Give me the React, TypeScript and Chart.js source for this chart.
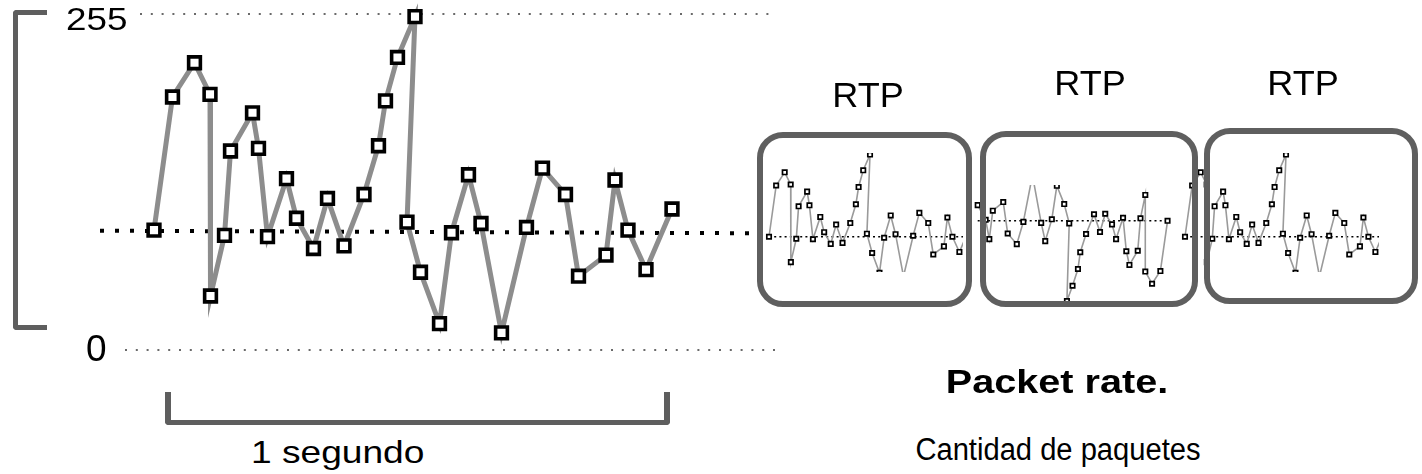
import React, { useEffect, useRef } from 'react';
import { Chart, registerables } from 'chart.js';

Chart.register(...registerables);

const FONT = '"Liberation Sans", Arial, Helvetica, sans-serif';

// ---- Main packet-rate series (time in ms, value 0..255) ----
const mainTimes = [0, 37, 81, 112, 113, 141, 153, 197, 209, 227, 265, 285, 319, 347, 380, 420, 449, 463, 487, 522, 506, 533, 571, 595, 629, 654, 695, 745, 777, 823, 849, 904, 922, 948, 984, 1036];
const mainValues = [91, 192, 218, 194, 41, 87, 151, 180, 153, 86, 130, 100, 77, 115, 79, 118, 155, 189, 222, 253, 97, 59, 20, 89, 133, 96, 13, 93, 138, 118, 56, 72, 129, 91, 61, 107];

// average (dotted) line of the main chart
const meanTimes = [-108, 1192];
const meanValues = [90.5, 88.6];

// reference lines 255 / 0
const topRefTimes = [-28, 1242];
const topRefValues = [255, 255];
const bottomRefTimes = [-58, 1258];
const bottomRefValues = [0, 0];

// ---- mini RTP charts ----
const miniMeanTimes = [0, 1040];
const miniMeanValues = [91, 91];

// second RTP window (different stream)
const rtp2Times = [0, 41, 60, 78, 132, 155, 202, 236, 283, 328, 349, 383, 409, 447, 473, 461, 490, 518, 530, 560, 601, 632, 659, 694, 715, 751, 768, 784, 827, 841, 866, 866, 901, 944, 981];
const rtp2Values = [191, 162, 124, 180, 197, 135, 114, 158, 250, 156, 120, 163, 229, 193, 155, 2, 32, 65, 98, 134, 173, 138, 174, 153, 124, 166, 100, 73, 101, 165, 211, 60, 36, 61, 160];
const rtp2MeanTimes = [0, 994];
const rtp2MeanValues = [160, 160];

// text labels
const yTickTop = '255';
const yTickBottom = '0';
const rtpLabel = 'RTP';
const secondLabel = '1 segundo';
const titleBold = 'Packet rate.';
const subtitle = 'Cantidad de paquetes';

const zip = (xs: number[], ys: number[]) => xs.map((x, i) => ({ x, y: ys[i] }));

type Props = {
  left: number; top: number; width: number; height: number;
  xMin: number; xMax: number; yMin: number; yMax: number;
  datasets: any[];
};

function Plot({ left, top, width, height, xMin, xMax, yMin, yMax, datasets }: Props) {
  const ref = useRef<HTMLCanvasElement | null>(null);
  useEffect(() => {
    if (!ref.current) return;
    const chart = new Chart(ref.current, {
      type: 'line',
      data: { datasets },
      options: {
        animation: false,
        responsive: false,
        maintainAspectRatio: false,
        events: [],
        layout: { padding: 0, autoPadding: false },
        plugins: { legend: { display: false }, tooltip: { enabled: false } },
        elements: { line: { tension: 0 } },
        scales: {
          x: { type: 'linear', min: xMin, max: xMax, display: false },
          y: { type: 'linear', min: yMin, max: yMax, display: false },
        },
      },
    });
    return () => chart.destroy();
  }, []);
  return (
    <canvas
      ref={ref}
      width={width}
      height={height}
      style={{ position: 'absolute', left, top, width, height, zIndex: 1 }}
    />
  );
}

const mainSeries = {
  data: zip(mainTimes, mainValues),
  borderColor: '#8d8d8d',
  borderWidth: 5,
  pointStyle: 'rect',
  pointRadius: 8.3,
  pointBorderWidth: 3.6,
  pointBorderColor: '#000',
  pointBackgroundColor: '#fff',
};

const dotted = (xs: number[], ys: number[], color: string, w: number, dash: number[]) => ({
  data: zip(xs, ys),
  borderColor: color,
  borderWidth: w,
  borderDash: dash,
  pointRadius: 0,
});

const miniSeries = (xs: number[], ys: number[]) => ({
  data: zip(xs, ys),
  borderColor: '#9a9a9a',
  borderWidth: 1.6,
  pointStyle: 'rect',
  pointRadius: 3.1,
  pointBorderWidth: 1.7,
  pointBorderColor: '#000',
  pointBackgroundColor: '#fff',
});

function Text({ children, left, top, size, bold, sx = 1, center }: any) {
  const base: any = {
    position: 'absolute',
    top,
    fontSize: size,
    lineHeight: 1,
    whiteSpace: 'nowrap',
    fontWeight: bold ? 700 : 400,
    color: '#000',
    zIndex: 3,
  };
  if (center) {
    return (
      <div style={{ ...base, left: left - 300, width: 600, textAlign: 'center', transform: `scaleX(${sx})`, transformOrigin: 'center top' }}>
        {children}
      </div>
    );
  }
  return (
    <div style={{ ...base, left, transform: `scaleX(${sx})`, transformOrigin: 'left top' }}>{children}</div>
  );
}

function Box({ left, top, width, height }: any) {
  return (
    <div
      style={{
        position: 'absolute', left, top, width, height, boxSizing: 'border-box',
        border: '6px solid #5f5f5f', borderRadius: 26, zIndex: 2,
      }}
    />
  );
}

export default function App() {
  useEffect(() => {
    document.body.style.margin = '0';
  }, []);

  const mainDatasets = [
    mainSeries,
    dotted(meanTimes, meanValues, '#000', 4, [4, 11]),
    dotted(topRefTimes, topRefValues, '#6a6a6a', 2, [2, 8.8]),
    dotted(bottomRefTimes, bottomRefValues, '#6a6a6a', 2, [2, 8.8]),
  ];

  const mini1 = [miniSeries(mainTimes, mainValues), dotted(miniMeanTimes, miniMeanValues, '#000', 1.4, [2, 3.2])];
  const mini2 = [miniSeries(rtp2Times, rtp2Values), dotted(rtp2MeanTimes, rtp2MeanValues, '#000', 1.4, [2, 3.2])];
  const mini3 = [miniSeries(mainTimes, mainValues), dotted(miniMeanTimes, miniMeanValues, '#000', 1.4, [2, 3.2])];

  return (
    <div style={{ position: 'absolute', left: 0, top: 0, width: 1422, height: 474, overflow: 'hidden', background: '#fff', fontFamily: FONT }}>
      {/* left bracket */}
      <div style={{ position: 'absolute', left: 13, top: 10, width: 34, height: 320, boxSizing: 'border-box', borderLeft: '5px solid #5e5e5e', borderTop: '5px solid #5e5e5e', borderBottom: '5px solid #5e5e5e', borderRadius: '4px 0 0 4px' }} />
      {/* bottom bracket */}
      <div style={{ position: 'absolute', left: 165, top: 392, width: 505, height: 33, boxSizing: 'border-box', borderLeft: '6px solid #5e5e5e', borderRight: '6px solid #5e5e5e', borderBottom: '5px solid #5e5e5e', borderRadius: '0 0 4px 4px' }} />

      <Plot left={0} top={0} width={800} height={370} xMin={-308} xMax={1292} yMin={-15.18} yMax={265.6} datasets={mainDatasets} />
      <Plot left={762} top={153} width={201} height={119} xMin={-36.2} xMax={1002.6} yMin={21.5} yMax={256.1} datasets={mini1} />
      <Plot left={974} top={185} width={198} height={117} xMin={-19.1} xMax={1004} yMin={0} yMax={230.6} datasets={mini2} />
      <Plot left={1180} top={153} width={199} height={119} xMin={-25.8} xMax={1002.6} yMin={21.5} yMax={256.1} datasets={mini3} />

      <Box left={757} top={132} width={215} height={175} />
      <Box left={980} top={131} width={218} height={176} />
      <Box left={1204} top={128} width={214} height={176} />

      <Text left={66} top={3} size={32} sx={1.15}>{yTickTop}</Text>
      <Text left={86} top={330} size={37}>{yTickBottom}</Text>
      <Text left={251} top={436} size={32} sx={1.16}>{secondLabel}</Text>

      <Text left={868} top={77} size={35} center sx={1.03}>{rtpLabel}</Text>
      <Text left={1090} top={65} size={35} center sx={1.03}>{rtpLabel}</Text>
      <Text left={1303} top={65} size={35} center sx={1.03}>{rtpLabel}</Text>

      <Text left={1057} top={365} size={33} bold center sx={1.2}>{titleBold}</Text>
      <Text left={1058} top={434} size={31} center sx={0.94}>{subtitle}</Text>
    </div>
  );
}
